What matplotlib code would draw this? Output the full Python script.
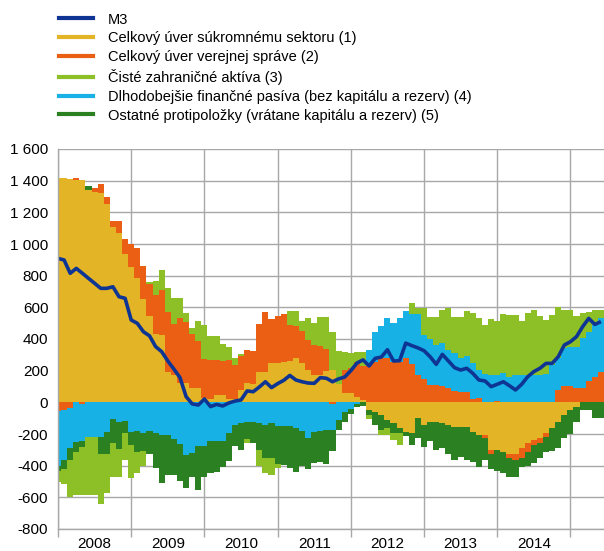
import numpy as np
import matplotlib
matplotlib.use("Agg")
import matplotlib.pyplot as plt
from matplotlib.lines import Line2D
from matplotlib.ticker import FuncFormatter, MultipleLocator

plt.rcParams['font.family'] = ['Liberation Sans', 'DejaVu Sans']

# monthly data, Jan 2008 .. Jun 2015 (EUR bn, annual flows)
months = np.arange(90)
years = ['2008', '2009', '2010', '2011', '2012', '2013', '2014']

m3 = [909, 899, 815, 846, 815, 783, 752, 720, 720, 730, 667, 657, 520, 499, 446,
      420, 352, 320, 261, 210, 156, 36, -10, -17, 21, -27, -13, -23, -4, 8,
      15, 72, 67, 97, 130, 93, 118, 139, 170, 141, 130, 122, 120, 156, 152,
      130, 148, 160, 200, 248, 268, 230, 278, 286, 332, 261, 263, 374, 358, 344,
      326, 288, 240, 303, 261, 219, 204, 215, 183, 141, 135, 99, 114, 130, 105,
      78, 114, 162, 194, 215, 246, 246, 288, 362, 383, 415, 478, 530, 492, 510]

private_credit = [1415, 1419, 1410, 1404, 1404, 1340, 1326, 1320, 1255, 1110, 1072, 935, 855, 785, 652,
                  545, 429, 425, 189, 173, 120, 120, 88, 93, 25, 21, 46, 46, 21, 21,
                  75, 120, 114, 194, 189, 246, 246, 257, 261, 278, 246, 204, 173, 175, 198,
                  206, 118, 59, 59, 34, 15, -48, -63, -80, -112, -133, -164, -189, -196, -101,
                  -143, -122, -122, -133, -143, -154, -154, -154, -185, -206, -204, -299, -301, -312, -328,
                  -328, -290, -259, -238, -227, -196, -164, -122, -80, -48, -27, 0, 0, 0, 0]

gov_credit = [-55, -50, -38, 12, -12, 0, 29, 61, 42, 35, 73, 95, 145, 190, 208,
              200, 248, 284, 383, 320, 410, 389, 341, 295, 248, 246, 221, 215, 246, 215,
              217, 210, 210, 301, 383, 280, 300, 299, 227, 206, 204, 189, 189, 179, 139,
              -12, 0, 143, 160, 221, 212, 236, 257, 278, 278, 257, 253, 278, 240, 173,
              147, 109, 109, 105, 88, 72, 67, 67, 21, 25, -21, -25, 8, 0, -25,
              -36, -63, -53, -32, -27, -21, 0, 78, 105, 105, 93, 93, 135, 162, 189]

foreign_assets = [-65, -90, -232, -269, -305, -368, -368, -316, -246, -210, -175, -168, -210, -133, -93,
                  15, 91, 126, 152, 168, 126, 57, 38, 126, 215, 154, 154, 107, 84, 42,
                  15, -25, 0, -100, -95, -105, -21, 0, 88, 93, 63, 141, 141, 187, 204,
                  238, 206, 116, 91, 61, 89, -25, 0, -32, -42, -42, -74, 0, 67, 38,
                  173, 141, 179, 206, 263, 232, 263, 282, 316, 330, 312, 354, 341, 375, 389,
                  379, 341, 389, 408, 375, 341, 316, 322, 242, 232, 196, 158, 126, 95, 48]

longer_liab = [-350, -316, -248, -252, -232, -217, -217, -217, -185, -105, -122, -120, -185, -181, -196,
               -181, -196, -206, -206, -232, -265, -333, -322, -274, -274, -244, -244, -244, -196, -143,
               -133, -126, -122, -133, -143, -133, -147, -147, -147, -164, -181, -223, -185, -181, -175,
               -160, -114, -61, -40, -13, 0, 94, 185, 206, 252, 242, 277, 299, 320, 387,
               278, 290, 253, 272, 242, 238, 211, 227, 225, 179, 177, 173, 164, 183, 162,
               173, 173, 173, 173, 173, 177, 236, 204, 236, 247, 259, 311, 311, 326, 346]

other_items = [-30, -57, -78, -63, -36, 25, 0, -112, -143, -154, -173, -74, -84, -135, -112,
               -147, -221, -305, -253, -227, -232, -206, -147, -280, -196, -204, -198, -162, -175, -131,
               -168, -107, -137, -168, -210, -221, -244, -248, -265, -274, -219, -198, -200, -194, -217,
               -137, -61, -61, -32, -17, -25, -32, -80, -95, -53, -63, -32, -21, -74, -126,
               -137, -122, -179, -158, -185, -210, -189, -210, -189, -200, -137, -95, -133, -137, -116,
               -105, -53, -88, -116, -99, -95, -143, -168, -147, -154, -95, -48, -50, -101, -101]

labels = ['M3',
          'Celkový úver súkromnému sektoru (1)',
          'Celkový úver verejnej správe (2)',
          'Čisté zahraničné aktíva (3)',
          'Dlhodobejšie finančné pasíva (bez kapitálu a rezerv) (4)',
          'Ostatné protipoložky (vrátane kapitálu a rezerv) (5)']

c_m3 = '#0E3594'
c_priv = '#E2B426'
c_gov = '#EB5F14'
c_foreign = '#8DBF27'
c_liab = '#17B1E6'
c_other = '#2B8121'
grid_c = '#A8A8A8'

fig = plt.figure(figsize=(6.04, 5.51), dpi=100)
ax = fig.add_axes([58 / 604, 22 / 551, 546 / 604, 380 / 551])

# positives and negatives are stacked separately, in the same series order
stack = [(private_credit, c_priv), (gov_credit, c_gov), (longer_liab, c_liab),
         (other_items, c_other), (foreign_assets, c_foreign)]
pos_base = np.zeros(len(months))
neg_base = np.zeros(len(months))
for vals, color in stack:
    v = np.array(vals, dtype=float)
    pos = np.clip(v, 0, None)
    neg = np.clip(v, None, 0)
    ax.bar(months, pos, bottom=pos_base, width=1.0, color=color, linewidth=0, antialiased=False)
    ax.bar(months, neg, bottom=neg_base, width=1.0, color=color, linewidth=0, antialiased=False)
    pos_base += pos
    neg_base += neg

ax.plot(months, m3, color=c_m3, lw=2.6, solid_joinstyle='round', solid_capstyle='butt')

ax.set_xlim(0, 89.5)
ax.set_ylim(-800, 1600)
ax.yaxis.set_major_locator(MultipleLocator(200))
ax.yaxis.set_major_formatter(FuncFormatter(lambda v, p: f"{int(v):,}".replace(",", " ")))

ax.set_xticks(np.arange(0, 90, 12))
ax.set_xticklabels([])
ax.set_xticks(np.arange(6, 84, 12), minor=True)
ax.set_xticklabels(years, minor=True)
ax.tick_params(axis='x', which='major', length=6, width=1, color=grid_c, direction='out')
ax.tick_params(axis='x', which='minor', length=0, labelsize=11, pad=6)
ax.tick_params(axis='y', length=0, labelsize=11, pad=7)

ax.grid(True, which='major', color=grid_c, lw=1)
ax.set_axisbelow(True)
for side in ['top', 'right']:
    ax.spines[side].set_visible(False)
for side in ['left', 'bottom']:
    ax.spines[side].set_color(grid_c)
    ax.spines[side].set_linewidth(1)

colors = [c_m3, c_priv, c_gov, c_foreign, c_liab, c_other]
handles = [Line2D([], [], color=c, lw=3) for c in colors]
fig.legend(handles, labels, loc='upper left', bbox_to_anchor=(59 / 604, 1 - 12.5 / 551),
           frameon=False, fontsize=10.5, handlelength=2.3, handletextpad=1.05,
           labelspacing=0.33, borderpad=0, borderaxespad=0)

fig.savefig('out.png', dpi=100)
